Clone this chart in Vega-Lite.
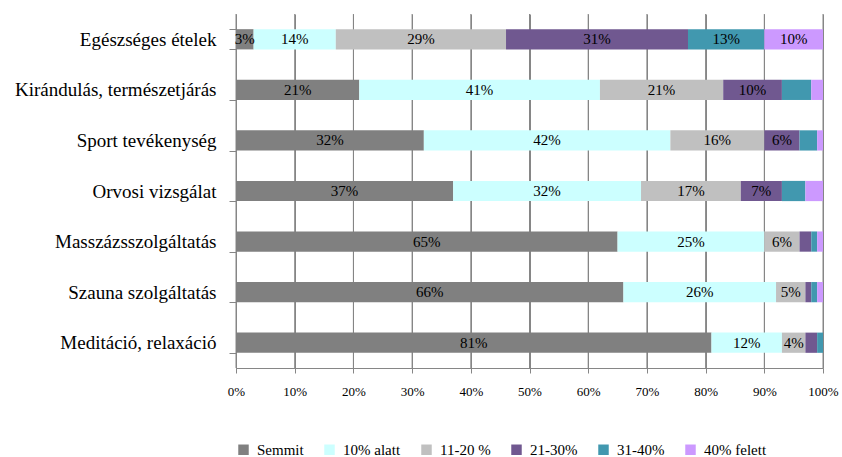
{
  "$schema": "https://vega.github.io/schema/vega-lite/v6.json",
  "autosize": "none",
  "width": 587,
  "height": 354,
  "padding": {"left": 236, "top": 14, "right": 19, "bottom": 89},
  "background": "white",
  "config": {
    "font": "Liberation Serif",
    "view": {"stroke": null}
  },
  "datasets": {
    "gridvals": [
      {"g": 0}, {"g": 0.1}, {"g": 0.2}, {"g": 0.3}, {"g": 0.4}, {"g": 0.5},
      {"g": 0.6}, {"g": 0.7}, {"g": 0.8}, {"g": 0.9}, {"g": 1}
    ],
    "main": [
      {"cat": "Egészséges ételek", "grp": "Semmit", "idx": 1, "v": 0.03},
      {"cat": "Egészséges ételek", "grp": "10% alatt", "idx": 2, "v": 0.14},
      {"cat": "Egészséges ételek", "grp": "11-20 %", "idx": 3, "v": 0.29},
      {"cat": "Egészséges ételek", "grp": "21-30%", "idx": 4, "v": 0.31},
      {"cat": "Egészséges ételek", "grp": "31-40%", "idx": 5, "v": 0.13},
      {"cat": "Egészséges ételek", "grp": "40% felett", "idx": 6, "v": 0.10},
      {"cat": "Kirándulás, természetjárás", "grp": "Semmit", "idx": 1, "v": 0.21},
      {"cat": "Kirándulás, természetjárás", "grp": "10% alatt", "idx": 2, "v": 0.41},
      {"cat": "Kirándulás, természetjárás", "grp": "11-20 %", "idx": 3, "v": 0.21},
      {"cat": "Kirándulás, természetjárás", "grp": "21-30%", "idx": 4, "v": 0.10},
      {"cat": "Kirándulás, természetjárás", "grp": "31-40%", "idx": 5, "v": 0.05},
      {"cat": "Kirándulás, természetjárás", "grp": "40% felett", "idx": 6, "v": 0.02},
      {"cat": "Sport tevékenység", "grp": "Semmit", "idx": 1, "v": 0.32},
      {"cat": "Sport tevékenység", "grp": "10% alatt", "idx": 2, "v": 0.42},
      {"cat": "Sport tevékenység", "grp": "11-20 %", "idx": 3, "v": 0.16},
      {"cat": "Sport tevékenység", "grp": "21-30%", "idx": 4, "v": 0.06},
      {"cat": "Sport tevékenység", "grp": "31-40%", "idx": 5, "v": 0.03},
      {"cat": "Sport tevékenység", "grp": "40% felett", "idx": 6, "v": 0.01},
      {"cat": "Orvosi vizsgálat", "grp": "Semmit", "idx": 1, "v": 0.37},
      {"cat": "Orvosi vizsgálat", "grp": "10% alatt", "idx": 2, "v": 0.32},
      {"cat": "Orvosi vizsgálat", "grp": "11-20 %", "idx": 3, "v": 0.17},
      {"cat": "Orvosi vizsgálat", "grp": "21-30%", "idx": 4, "v": 0.07},
      {"cat": "Orvosi vizsgálat", "grp": "31-40%", "idx": 5, "v": 0.04},
      {"cat": "Orvosi vizsgálat", "grp": "40% felett", "idx": 6, "v": 0.03},
      {"cat": "Masszázsszolgáltatás", "grp": "Semmit", "idx": 1, "v": 0.65},
      {"cat": "Masszázsszolgáltatás", "grp": "10% alatt", "idx": 2, "v": 0.25},
      {"cat": "Masszázsszolgáltatás", "grp": "11-20 %", "idx": 3, "v": 0.06},
      {"cat": "Masszázsszolgáltatás", "grp": "21-30%", "idx": 4, "v": 0.02},
      {"cat": "Masszázsszolgáltatás", "grp": "31-40%", "idx": 5, "v": 0.01},
      {"cat": "Masszázsszolgáltatás", "grp": "40% felett", "idx": 6, "v": 0.01},
      {"cat": "Szauna szolgáltatás", "grp": "Semmit", "idx": 1, "v": 0.66},
      {"cat": "Szauna szolgáltatás", "grp": "10% alatt", "idx": 2, "v": 0.26},
      {"cat": "Szauna szolgáltatás", "grp": "11-20 %", "idx": 3, "v": 0.05},
      {"cat": "Szauna szolgáltatás", "grp": "21-30%", "idx": 4, "v": 0.01},
      {"cat": "Szauna szolgáltatás", "grp": "31-40%", "idx": 5, "v": 0.01},
      {"cat": "Szauna szolgáltatás", "grp": "40% felett", "idx": 6, "v": 0.01},
      {"cat": "Meditáció, relaxáció", "grp": "Semmit", "idx": 1, "v": 0.81},
      {"cat": "Meditáció, relaxáció", "grp": "10% alatt", "idx": 2, "v": 0.12},
      {"cat": "Meditáció, relaxáció", "grp": "11-20 %", "idx": 3, "v": 0.04},
      {"cat": "Meditáció, relaxáció", "grp": "21-30%", "idx": 4, "v": 0.02},
      {"cat": "Meditáció, relaxáció", "grp": "31-40%", "idx": 5, "v": 0.01},
      {"cat": "Meditáció, relaxáció", "grp": "40% felett", "idx": 6, "v": 0.0}
    ]
  },
  "resolve": {"axis": {"x": "independent"}},
  "layer": [
    {
      "data": {"name": "gridvals"},
      "mark": {"type": "rule", "color": "#868686", "strokeWidth": 1, "opacity": 1},
      "encoding": {
        "x": {"field": "g", "type": "quantitative", "scale": {"domain": [0, 1]}, "axis": null}
      }
    },
    {
      "data": {"name": "main"},
      "mark": {"type": "bar"},
      "encoding": {
        "y": {
          "field": "cat",
          "type": "nominal",
          "sort": null,
          "scale": {"paddingInner": 0.6, "paddingOuter": 0.3},
          "axis": {
            "title": null,
            "labelFont": "Liberation Serif",
            "labelFontSize": 19,
            "labelColor": "black",
            "labelPadding": 13,
            "labelLimit": 300,
            "tickBand": "extent",
            "tickSize": 7,
            "tickColor": "#868686",
            "domainColor": "#868686",
            "grid": false
          }
        },
        "order": {"field": "idx", "type": "quantitative"},
        "x": {
          "field": "v",
          "type": "quantitative",
          "stack": "normalize",
          "scale": {"domain": [0, 1]},
          "axis": {
            "title": null,
            "format": ".0%",
            "values": [0, 0.1, 0.2, 0.3, 0.4, 0.5, 0.6, 0.7, 0.8, 0.9, 1],
            "labelFont": "Liberation Serif",
            "labelFontSize": 13,
            "labelColor": "black",
            "labelPadding": 12,
            "labelOverlap": false,
            "labelFlush": false,
            "tickSize": 5,
            "tickColor": "#868686",
            "domainColor": "#868686",
            "grid": true,
            "gridColor": "#868686",
            "gridWidth": 1,
            "gridOpacity": 1
          }
        },
        "color": {
          "field": "grp",
          "type": "nominal",
          "scale": {
            "domain": ["Semmit", "10% alatt", "11-20 %", "21-30%", "31-40%", "40% felett"],
            "range": ["#808080", "#CCFFFF", "#C0C0C0", "#705890", "#4198AF", "#CC99FF"]
          },
          "legend": {
            "title": null,
            "orient": "none",
            "direction": "horizontal",
            "legendX": 0,
            "legendY": 428,
            "symbolType": "square",
            "symbolSize": 110,
            "symbolStrokeWidth": 0,
            "labelFont": "Liberation Serif",
            "labelFontSize": 15,
            "labelColor": "black",
            "labelOffset": 6,
            "columnPadding": 18
          }
        }
      }
    },
    {
      "data": {"name": "main"},
      "transform": [
        {"stack": "v", "groupby": ["cat"], "sort": [{"field": "idx", "order": "ascending"}], "offset": "normalize", "as": ["s0", "s1"]},
        {"calculate": "(datum.s0 + datum.s1) / 2", "as": "mid"}
      ],
      "mark": {"type": "text", "font": "Liberation Serif", "fontSize": 15, "color": "black", "baseline": "middle", "align": "center"},
      "encoding": {
        "y": {
          "field": "cat",
          "type": "nominal",
          "sort": null,
          "scale": {"paddingInner": 0.6, "paddingOuter": 0.3},
          "axis": {
            "title": null,
            "labelFont": "Liberation Serif",
            "labelFontSize": 19,
            "labelColor": "black",
            "labelPadding": 13,
            "labelLimit": 300,
            "tickBand": "extent",
            "tickSize": 7,
            "tickColor": "#868686",
            "domainColor": "#868686",
            "grid": false
          }
        },
        "x": {"field": "mid", "type": "quantitative", "scale": {"domain": [0, 1]}, "axis": null},
        "text": {
          "condition": {
            "test": "datum.v >= 0.055 || datum.grp == 'Semmit' || datum.grp == '11-20 %'",
            "field": "v",
            "type": "quantitative",
            "format": ".0%"
          },
          "value": ""
        }
      }
    }
  ]
}
